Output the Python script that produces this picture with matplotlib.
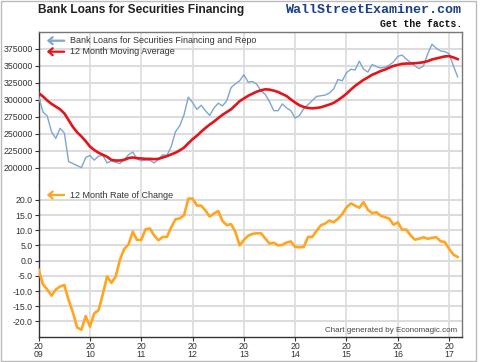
import numpy as np
import matplotlib
matplotlib.use('Agg')
from matplotlib import pyplot as plt
from matplotlib.patches import Rectangle

# monthly data, Jan 2009 onwards
loans = [305000, 282000, 276000, 253000, 243000, 258000, 251000, 209000, 206000, 203000,
         200000, 215000, 218000, 211000, 217000, 218000, 207000, 210000, 208000, 206000,
         212000, 219000, 223000, 213000, 210000, 211000, 211000, 207000, 212000, 219000,
         218000, 231000, 253000, 262000, 278000, 304000, 296000, 286000, 292000, 284000,
         277000, 288000, 295000, 291000, 299000, 318000, 323500, 328000, 337000, 326000,
         327000, 323000, 313000, 308000, 297000, 284000, 284000, 294000, 288000, 284000,
         273000, 277000, 287000, 293000, 299000, 305000, 306000, 307000, 310000, 316000,
         330000, 328000, 340000, 345000, 344000, 357000, 345000, 341000, 352000, 349000,
         347000, 348000, 351000, 356000, 364000, 366000, 360000, 355000, 350000, 346000,
         350000, 368000, 382000, 376000, 372000, 371000, 368000, 350000, 334000]
moving_avg = [310000, 305000, 299000, 294000, 290000, 286000, 280000, 270000, 260000, 252000,
              246000, 239000, 231000, 226000, 222000, 219000, 216000, 211500, 210500, 210500,
              211500, 214000, 215000, 214000, 213500, 213000, 213000, 212500, 213000, 215000,
              217000, 219500, 222000, 225500, 229500, 236000, 242000, 247000, 253000, 258500,
              263500, 268000, 273000, 278000, 282000, 286000, 292000, 298000, 302000, 306000,
              309000, 312000, 314000, 315500, 315000, 313500, 311500, 308500, 305500, 300500,
              296000, 292000, 289500, 288000, 287500, 288000, 289000, 291000, 293000, 295500,
              299500, 304000, 309000, 315000, 320500, 325000, 329500, 333000, 337000, 339500,
              342500, 344500, 347500, 350000, 351500, 353000, 353500, 353500, 354000, 354500,
              355500, 357000, 359500, 361000, 362500, 364000, 364500, 362500, 360000]
rate_change = [-3.0, -7.8, -9.5, -11.5, -9.5, -8.5, -8.0, -13.0, -17.0, -22.0,
               -22.7, -18.2, -21.7, -17.3, -16.3, -11.0, -5.2, -7.3, -5.3, 0.3,
               3.8, 5.3, 9.5, 6.8, 6.8, 10.3, 10.6, 8.3, 6.7, 7.8,
               7.8, 11.0, 13.6, 13.9, 14.9, 20.4, 20.4, 18.1, 18.1, 16.5,
               14.5, 15.5, 16.3, 13.0, 11.7, 12.0, 9.5, 5.0, 6.8, 8.2,
               8.8, 9.0, 9.0, 7.3, 5.6, 5.9, 5.0, 5.2, 6.0, 6.3,
               4.5, 4.4, 4.5, 7.8, 7.8, 9.8, 11.6, 12.2, 13.2, 12.6,
               13.8, 15.3, 17.5, 18.8, 18.1, 17.4, 19.2, 16.7, 15.6, 15.9,
               14.8, 14.3, 13.8, 11.8, 12.6, 10.2, 10.2, 8.3, 6.9, 7.2,
               7.7, 7.2, 7.5, 7.7, 6.4, 6.1, 3.9, 2.0, 1.2]
years = list(range(2009, 2018))
upper_ticks = [200000, 225000, 250000, 275000, 300000, 325000, 350000, 375000]
lower_ticks = [-20.0, -15.0, -10.0, -5.0, 0.0, 5.0, 10.0, 15.0, 20.0]

x = 2009 + np.arange(len(loans)) / 12

W, H = 480, 362
fig = plt.figure(figsize=(W / 100, H / 100), dpi=100)
plt.rcParams['font.family'] = ['Liberation Sans', 'DejaVu Sans']

left, right = 38.7, 461.7
top, mid, bottom = 32, 184.6, 336.7


def box(y0, y1):
    return [left / W, 1 - y1 / H, (right - left) / W, (y1 - y0) / H]


ax1 = fig.add_axes(box(top, mid))
ax2 = fig.add_axes(box(mid, bottom))

grid_c = '#dcdcdc'
for ax in (ax1, ax2):
    ax.set_xlim(2009, 2009 + (right - left) / 51.3)
    ax.set_xticks(years)
    for yr in years:
        ax.axvline(yr, color=grid_c, lw=1.2, zorder=0)
    for s in ('top', 'right', 'bottom', 'left'):
        ax.spines[s].set_color('#777777')
        ax.spines[s].set_linewidth(1.0)
    ax.spines['left'].set_color('#333333')
    ax.tick_params(axis='y', length=3, width=0.8, color='#333333', labelsize=6.3,
                   labelcolor='#333333', pad=1.5)
    ax.tick_params(axis='x', length=3, width=0.8, color='#333333', labelsize=6.3,
                   labelcolor='#333333', pad=1)

ax1.spines['bottom'].set_visible(False)
ax2.spines['top'].set_visible(False)
ax2.spines['bottom'].set_color('#333333')
ax1.tick_params(axis='x', bottom=False, labelbottom=False)

ax1.set_ylim(175000, 400000)
ax1.set_yticks(upper_ticks)
ax1.set_yticklabels([str(v) for v in upper_ticks])
for v in upper_ticks:
    ax1.axhline(v, color=grid_c, lw=1.5, zorder=0)
ax1.plot(x, loans, color='#7fa6cf', lw=1.0, zorder=3)
ax1.plot(x, moving_avg, color='#e4141b', lw=1.9, zorder=4)

ax2.set_ylim(-25, 25)
ax2.set_yticks(lower_ticks)
ax2.set_yticklabels(['%.1f' % v for v in lower_ticks])
for v in lower_ticks:
    ax2.axhline(v, color=grid_c, lw=1.5, zorder=0)
ax2.plot(x, rate_change, color='#ffa51f', lw=1.9, zorder=3)
ax2.set_xticklabels(['20\n%02d' % (y % 100) for y in years], linespacing=0.8)

# legend entries with arrows
legend = [('Bank Loans for Securities Financing and Repo', '#7fa6cf', 40.7),
          ('12 Month Moving Average', '#e4141b', 51.7),
          ('12 Month Rate of Change', '#ffa51f', 195.0)]
for label, col, py in legend:
    fig.add_artist(matplotlib.patches.FancyArrowPatch(
        (67 / W, 1 - py / H), (44 / W, 1 - py / H), transform=fig.transFigure,
        arrowstyle='->,head_length=3,head_width=2.5', color=col, lw=1.6,
        mutation_scale=1))
    fig.text(70 / W, 1 - py / H, label, fontsize=6.5, color='#333333',
             va='center', ha='left')

fig.text(38 / W, 1 - 10 / H, 'Bank Loans for Securities Financing', fontsize=8.6,
         fontweight='bold', color='#222222', va='center', ha='left')
fig.text(462 / W, 1 - 10 / H, 'WallStreetExaminer.com', fontsize=9.6,
         fontweight='bold', family='Liberation Mono', color='#1c3f86',
         va='center', ha='right')
fig.text(462 / W, 1 - 24 / H, 'Get the facts.', fontsize=7,
         fontweight='bold', family='Liberation Mono', color='#111111',
         va='center', ha='right')
fig.text(457 / W, 1 - 330 / H, 'Chart generated by Economagic.com', fontsize=5.8,
         color='#444444', va='center', ha='right')

fig.add_artist(Rectangle((1 / W, 1 / H), 475 / W, 360 / H, transform=fig.transFigure,
                         fill=False, edgecolor='#bbbbbb', lw=1))

plt.savefig('out.png', dpi=100)
